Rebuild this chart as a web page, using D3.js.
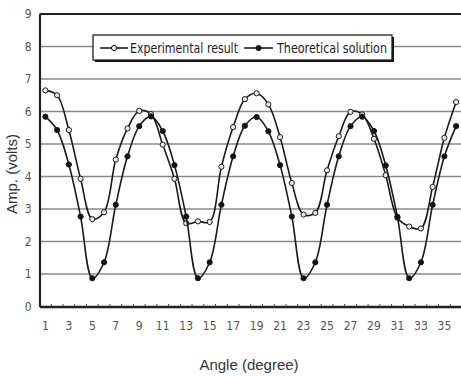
<!DOCTYPE html>
<html lang="en">
    <head>
        <meta charset="utf-8">
        <title>Amplitude vs angle</title>
        <script type="text/javascript" src="https://d3js.org/d3.v7.min.js"></script>
        <style>
            body { margin: 0; background: #fff; }
            svg { display: block; }
        </style>
    </head>

    <body>
        <script type="text/javascript">

            // data
            var angles = d3.range(1, 37);
            var y_ticks = [0, 1, 2, 3, 4, 5, 6, 7, 8, 9];
            var x_tick_labels = [1, 3, 5, 7, 9, 11, 13, 15, 17, 19, 21, 23, 25, 27, 29, 31, 33, 35];
            var experimental = [6.65, 6.50, 5.43, 3.93, 2.69, 2.90, 4.52, 5.48, 6.02,
                                5.92, 4.98, 3.93, 2.56, 2.62, 2.60, 4.30, 5.52, 6.38,
                                6.56, 6.22, 5.21, 3.80, 2.83, 2.88, 4.19, 5.24, 5.99,
                                5.91, 5.16, 4.04, 2.73, 2.46, 2.40, 3.68, 5.19, 6.29];
            var theoretical = [5.84, 5.43, 4.37, 2.77, 0.87, 1.36, 3.13, 4.62, 5.55,
                               5.85, 5.40, 4.35, 2.77, 0.87, 1.36, 3.13, 4.62, 5.56,
                               5.83, 5.39, 4.35, 2.77, 0.87, 1.36, 3.13, 4.62, 5.55,
                               5.84, 5.40, 4.34, 2.76, 0.87, 1.36, 3.13, 4.62, 5.55];
            var series_names = ["Experimental result", "Theoretical solution"];

            var width = 461, height = 377;
            var plot_left = 39.5, plot_right = 462, plot_top = 14, plot_bottom = 306.5;

            var svg = d3.select("body")
                .append("svg")
                .attr("width", width)
                .attr("height", height);

            var x = d3.scaleBand()
                .domain(angles)
                .range([plot_left, plot_right]);

            var y = d3.scaleLinear()
                .domain([0, 9])
                .range([plot_bottom, plot_top]);

            function cx(a) { return x(a) + x.bandwidth() / 2; }

            // horizontal grid lines
            svg.append("g")
                .selectAll("line")
                .data(y_ticks.filter(function(d) { return d > 0 && d < 9; }))
                .enter()
                .append("line")
                .attr("x1", plot_left)
                .attr("x2", width)
                .attr("y1", function(d) { return y(d); })
                .attr("y2", function(d) { return y(d); })
                .style("stroke", "#8a8a8a")
                .style("stroke-width", 1.3);

            // top border
            svg.append("line")
                .attr("x1", plot_left).attr("x2", width)
                .attr("y1", y(9)).attr("y2", y(9))
                .style("stroke", "#222").style("stroke-width", 2.2);

            // y axis
            var y_axis = svg.append("g")
                .attr("transform", "translate(" + plot_left + ",0)")
                .call(d3.axisLeft(y).tickValues(y_ticks).tickSize(0).tickPadding(8));
            y_axis.select(".domain").style("stroke", "#222").style("stroke-width", 2.2);

            // x axis, labels on odd angles only
            var x_axis = svg.append("g")
                .attr("transform", "translate(0," + plot_bottom + ")")
                .call(d3.axisBottom(x)
                    .tickValues(x_tick_labels)
                    .tickSize(0)
                    .tickPadding(15));
            x_axis.select(".domain").style("stroke", "#222").style("stroke-width", 2.6);

            // small tick marks between categories
            svg.append("g")
                .selectAll("line")
                .data(angles.slice(1))
                .enter()
                .append("line")
                .attr("x1", function(d) { return x(d); })
                .attr("x2", function(d) { return x(d); })
                .attr("y1", plot_bottom)
                .attr("y2", plot_bottom - 2.5)
                .style("stroke", "#444")
                .style("stroke-width", 1);

            svg.selectAll(".tick text")
                .style("font-family", "'DejaVu Sans Condensed', 'Liberation Sans Narrow', Arial, sans-serif")
                .style("font-size", "12px")
                .style("fill", "#555");

            // axis titles
            svg.append("text")
                .attr("transform", "translate(17,174) rotate(-90)")
                .attr("text-anchor", "middle")
                .style("font-family", "Arial, 'Liberation Sans', sans-serif")
                .style("font-size", "15px")
                .style("fill", "#333")
                .text("Amp. (volts)");

            svg.append("text")
                .attr("x", 249)
                .attr("y", 370)
                .attr("text-anchor", "middle")
                .style("font-family", "Arial, 'Liberation Sans', sans-serif")
                .style("font-size", "15px")
                .style("fill", "#333")
                .text("Angle (degree)");

            // smoothed lines
            var line = d3.line()
                .x(function(d, i) { return cx(angles[i]); })
                .y(function(d) { return y(d); })
                .curve(d3.curveCatmullRom);

            var all_series = [experimental, theoretical];
            var marker_fill = ["#e8e8e8", "#111"];

            all_series.forEach(function(s, k) {
                svg.append("path")
                    .datum(s)
                    .attr("d", line)
                    .style("fill", "none")
                    .style("stroke", "#1a1a1a")
                    .style("stroke-width", 1.6);
                svg.append("g")
                    .selectAll("circle")
                    .data(s)
                    .enter()
                    .append("circle")
                    .attr("cx", function(d, i) { return cx(angles[i]); })
                    .attr("cy", function(d) { return y(d); })
                    .attr("r", 2.6)
                    .style("fill", marker_fill[k])
                    .style("stroke", "#1a1a1a")
                    .style("stroke-width", 1);
            });

            // legend with a drop shadow
            var legend = svg.append("g");
            legend.append("rect")
                .attr("x", 95).attr("y", 37)
                .attr("width", 299).attr("height", 25)
                .style("fill", "#111");
            legend.append("rect")
                .attr("x", 93).attr("y", 35)
                .attr("width", 299).attr("height", 25)
                .style("fill", "#fff")
                .style("stroke", "#222")
                .style("stroke-width", 1.3);

            var legend_items = [
                { x0: 100, x1: 128, tx: 130, w: 108 },
                { x0: 244, x1: 273, tx: 277, w: 110 }
            ];
            legend_items.forEach(function(it, k) {
                legend.append("line")
                    .attr("x1", it.x0).attr("x2", it.x1)
                    .attr("y1", 48).attr("y2", 48)
                    .style("stroke", "#1a1a1a").style("stroke-width", 1.6);
                legend.append("circle")
                    .attr("cx", (it.x0 + it.x1) / 2).attr("cy", 48)
                    .attr("r", 2.6)
                    .style("fill", marker_fill[k])
                    .style("stroke", "#1a1a1a");
                legend.append("text")
                    .attr("x", it.tx).attr("y", 53)
                    .attr("textLength", it.w)
                    .attr("lengthAdjust", "spacingAndGlyphs")
                    .style("font-family", "'DejaVu Sans Condensed', 'Liberation Sans Narrow', Arial, sans-serif")
                    .style("font-size", "13.5px")
                    .style("fill", "#222")
                    .text(series_names[k]);
            });
        </script>
    </body>
</html>
